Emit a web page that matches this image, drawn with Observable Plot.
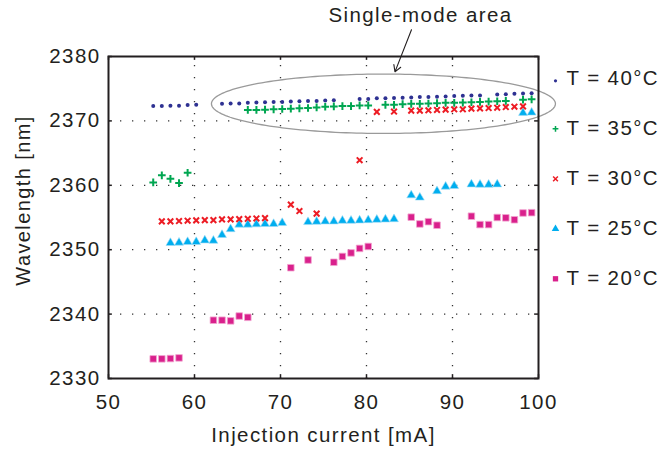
<!DOCTYPE html>
<html>
<head>
<meta charset="utf-8">
<script src="https://cdn.jsdelivr.net/npm/d3@7"></script>
<script src="https://cdn.jsdelivr.net/npm/@observablehq/plot@0.6"></script>
<style>
  html, body { margin: 0; padding: 0; background: #fff; }
  g[aria-label="ylabel"] text { letter-spacing: 0 !important; }
</style>
</head>
<body>
<div id="chart"></div>
<script>
// ---- data ----
const xTicks = [50, 60, 70, 80, 90, 100];
const yTicks = [2330, 2340, 2350, 2360, 2370, 2380];
const legendLabels = ["T = 40°C", "T = 35°C", "T = 30°C", "T = 25°C", "T = 20°C"];
const xLabel = "Injection current [mA]";
const yLabel = "Wavelength [nm]";
const annotationLabel = "Single-mode area";

const current40 = [55.2,56.2,57.2,58.2,59.2,60.2,63.2,64.2,65.2,66.2,67.2,68.2,69.2,70.2,71.2,72.2,73.2,74.2,75.2,76.2,79.2,80.2,81.2,82.2,83.2,84.2,85.2,86.2,87.2,88.2,89.2,90.2,91.2,92.2,93.2,95.2,96.2,97.2,98.2,99.2];
const wavelength40 = [2372.3,2372.3,2372.35,2372.35,2372.45,2372.5,2372.65,2372.7,2372.7,2372.8,2372.85,2372.9,2372.95,2372.95,2373.0,2373.05,2373.1,2373.1,2373.15,2373.2,2373.4,2373.4,2373.5,2373.5,2373.55,2373.6,2373.65,2373.7,2373.7,2373.75,2373.8,2373.85,2373.9,2373.95,2373.95,2374.1,2374.15,2374.2,2374.25,2374.3];

const current35 = [55.2,56.2,57.2,58.2,59.2,66.2,67.2,68.2,69.2,70.2,71.2,72.2,73.2,74.2,75.2,76.2,77.2,78.2,79.2,80.2,82.2,83.2,84.2,85.2,86.2,87.2,88.2,89.2,90.2,91.2,92.2,93.2,94.2,95.2,96.2,98.2,99.2];
const wavelength35 = [2360.45,2361.55,2361.0,2360.35,2361.95,2371.7,2371.7,2371.75,2371.8,2371.85,2371.9,2371.95,2372.0,2372.1,2372.2,2372.25,2372.3,2372.3,2372.4,2372.4,2372.5,2372.5,2372.6,2372.65,2372.65,2372.7,2372.75,2372.8,2372.8,2372.85,2372.9,2372.95,2373.0,2373.05,2373.1,2373.3,2373.35];

const current30 = [56.2,57.2,58.2,59.2,60.2,61.2,62.2,63.2,64.2,65.2,66.2,67.2,68.2,71.2,72.2,74.2,79.2,81.2,83.2,85.2,86.2,87.2,88.2,89.2,90.2,91.2,92.2,93.2,94.2,95.2,96.2,97.2,98.2];
const wavelength30 = [2354.4,2354.4,2354.45,2354.5,2354.55,2354.6,2354.6,2354.7,2354.7,2354.75,2354.8,2354.85,2354.9,2357.0,2356.0,2355.6,2363.9,2371.4,2371.45,2371.6,2371.6,2371.65,2371.7,2371.75,2371.8,2371.8,2371.9,2371.95,2372.0,2372.05,2372.15,2372.2,2372.25];

const current25 = [57.2,58.2,59.2,60.2,61.2,62.2,63.2,64.2,65.2,66.2,67.2,68.2,69.2,70.2,73.2,74.2,75.2,76.2,77.2,78.2,79.2,80.2,81.2,82.2,83.2,85.2,86.2,88.2,89.2,90.2,92.2,93.2,94.2,95.2,98.2,99.2];
const wavelength25 = [2351.05,2351.1,2351.2,2351.2,2351.45,2351.4,2352.3,2353.2,2353.9,2353.9,2353.95,2354.0,2354.0,2354.15,2354.3,2354.35,2354.4,2354.4,2354.5,2354.5,2354.55,2354.6,2354.65,2354.7,2354.75,2358.45,2358.1,2359.1,2359.8,2359.9,2360.15,2360.1,2360.1,2360.15,2371.25,2371.3];

const current20 = [55.2,56.2,57.2,58.2,62.2,63.2,64.2,65.2,66.2,71.2,73.2,76.2,77.2,78.2,79.2,80.2,85.2,86.2,87.2,88.2,92.2,93.2,94.2,95.2,96.2,97.2,98.2,99.2];
const wavelength20 = [2333.05,2333.05,2333.1,2333.2,2339.05,2339.05,2338.95,2339.7,2339.5,2347.2,2348.4,2348.05,2348.95,2349.5,2350.2,2350.5,2355.05,2354.0,2354.35,2353.8,2355.2,2353.9,2353.9,2355.0,2354.95,2354.65,2355.7,2355.75];

// ---- build tables ----
const toRows = (xs, ys) => xs.map((x, i) => ({x, y: ys[i]}));
const s40 = toRows(current40, wavelength40);
const s35 = toRows(current35, wavelength35);
const s30 = toRows(current30, wavelength30);
const s25 = toRows(current25, wavelength25);
const s20 = toRows(current20, wavelength20);

// ---- styles ----
const ink = "#231f20";
const colors = {c40: "#2e3192", c35: "#00a651", c30: "#ed1c24", c25: "#00aeef", c20: "#d9208c"};

// annotation geometry (data space)
const ell = {cx: 81.97, cy: 2372.66, rx: 20.0, ry: 4.61};
const ellipsePts = d3.range(0, 201).map(i => {
  const t = (i / 200) * 2 * Math.PI;
  return {x: ell.cx + ell.rx * Math.cos(t), y: ell.cy + ell.ry * Math.sin(t)};
});

// legend rows
const legendStyle = [
  {symbol: "circle", r: 1.6, fill: colors.c40, stroke: "none", sw: 0},
  {symbol: "plus", r: 2.0, fill: "none", stroke: colors.c35, sw: 1.5},
  {symbol: "times", r: 2.3, fill: "none", stroke: colors.c30, sw: 1.5},
  {symbol: "triangle", r: 2.8, fill: colors.c25, stroke: "none", sw: 0},
  {symbol: "square", r: 3.0, fill: colors.c20, stroke: "none", sw: 0}
];
const legendMarks = legendLabels.flatMap((lab, i) => {
  const st = legendStyle[i];
  const dy = 22.3 + 50 * i;
  return [
    Plot.dot([lab], {frameAnchor: "top-right", dx: 17, dy: dy + (i === 0 ? 2 : 0), symbol: st.symbol, r: st.r,
      fill: st.fill, stroke: st.stroke, strokeWidth: st.sw}),
    Plot.text([lab], {frameAnchor: "top-right", dx: 28, dy, text: d => d, textAnchor: "start",
      lineAnchor: "middle", fill: ink, fontSize: 20.5})
  ];
});

const chart = Plot.plot({
  width: 663,
  height: 452,
  marginLeft: 108,
  marginRight: 125,
  marginTop: 56,
  marginBottom: 74,
  style: {fontFamily: "'Liberation Sans', Arial, sans-serif", fontSize: "20.5px", letterSpacing: "1.4px", color: ink, background: "#fff"},
  x: {domain: [50, 100], label: null},
  y: {domain: [2330, 2380], label: null},
  marks: [
    Plot.gridX(xTicks.slice(1, -1), {stroke: "#333", strokeOpacity: 1, strokeWidth: 1.3, strokeDasharray: "1.3 10.7", strokeDashoffset: -9}),
    Plot.gridY(yTicks.slice(1, -1), {stroke: "#333", strokeOpacity: 1, strokeWidth: 1.3, strokeDasharray: "1.3 10.7", strokeDashoffset: -12}),
    // inward ticks on all four sides
    Plot.ruleX(xTicks, {x: d => d, y1: 2330, y2: 2330.6, stroke: ink, strokeWidth: 1.5}),
    Plot.ruleX(xTicks, {x: d => d, y1: 2380, y2: 2379.4, stroke: ink, strokeWidth: 1.5}),
    Plot.ruleY(yTicks, {y: d => d, x1: 50, x2: 50.45, stroke: ink, strokeWidth: 1.5}),
    Plot.ruleY(yTicks, {y: d => d, x1: 100, x2: 99.55, stroke: ink, strokeWidth: 1.5}),
    // series
    Plot.dot(s20, {x: "x", y: "y", symbol: "square", r: 3.7, fill: colors.c20, stroke: "#f2a6d0", strokeWidth: 0.8}),
    Plot.dot(s25, {x: "x", y: "y", symbol: "triangle", r: 3.3, fill: colors.c25, stroke: "#9fdcf5", strokeWidth: 0.6}),
    Plot.dot(s30, {x: "x", y: "y", symbol: "times", r: 2.7, fill: "none", stroke: colors.c30, strokeWidth: 2}),
    Plot.dot(s35, {x: "x", y: "y", symbol: "plus", r: 2.6, fill: "none", stroke: colors.c35, strokeWidth: 2}),
    Plot.dot(s40, {x: "x", y: "y", symbol: "circle", r: 2, fill: colors.c40}),
    // annotation
    Plot.line(ellipsePts, {x: "x", y: "y", stroke: "#9a9a9a", strokeWidth: 1.3, curve: "linear"}),
    Plot.arrow([annotationLabel], {x1: 85.23, y1: 2384.15, x2: 83.31, y2: 2377.62, stroke: ink, strokeWidth: 1.1, headLength: 10}),
    Plot.text([annotationLabel], {x: 86.28, y: 2386.3, text: d => d, fill: ink, fontSize: 20.5}),
    Plot.frame({stroke: ink, strokeWidth: 2}),
    // axes
    Plot.axisX(xTicks, {tickSize: 0, tickPadding: 16, label: null, fill: ink, fontSize: 20.5, tickFormat: d3.format("d")}),
    Plot.axisY(yTicks, {tickSize: 0, tickPadding: 8, label: null, fill: ink, fontSize: 20.5, tickFormat: d3.format("d")}),
    Plot.text([xLabel], {frameAnchor: "bottom", dy: 57, lineAnchor: "middle", textAnchor: "middle", text: d => d, fill: ink, fontSize: 20.5}),
    Plot.text([yLabel], {frameAnchor: "left", rotate: -90, dx: -85, dy: -17, lineAnchor: "middle", textAnchor: "middle", text: d => d, fill: ink, fontSize: 20, ariaLabel: "ylabel"}),
    ...legendMarks
  ]
});
document.getElementById("chart").appendChild(chart);
</script>
</body>
</html>
